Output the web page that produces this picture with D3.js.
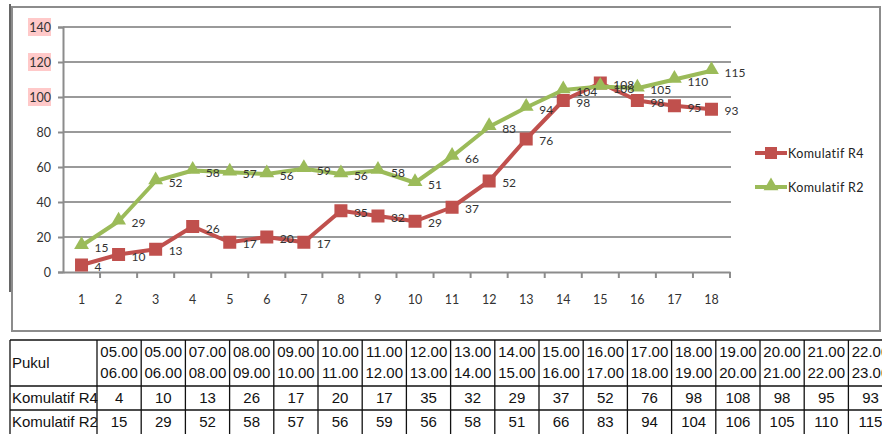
<!DOCTYPE html>
<meta charset="utf-8">
<style>
body { margin: 0; background: #fff; }
svg text { font-family: Lato, "Open Sans", sans-serif; }
.tbl text { font-family: "Liberation Sans", Arial, sans-serif; font-size: 15px; fill: #111; }
</style>
<body>
<script src="https://cdnjs.cloudflare.com/ajax/libs/d3/7.8.5/d3.min.js"></script>
<script>

// chart data
var cats = ["1","2","3","4","5","6","7","8","9","10","11","12","13","14","15","16","17","18"];
var r4 = [4, 10, 13, 26, 17, 20, 17, 35, 32, 29, 37, 52, 76, 98, 108, 98, 95, 93];
var r2 = [15, 29, 52, 58, 57, 56, 59, 56, 58, 51, 66, 83, 94, 104, 106, 105, 110, 115];
var yTicks = [0, 20, 40, 60, 80, 100, 120, 140];
var pinkTicks = [100, 120, 140];

// table data
var pukulFrom = ["05.00","05.00","07.00","08.00","09.00","10.00","11.00","12.00","13.00",
                 "14.00","15.00","16.00","17.00","18.00","19.00","20.00","21.00","22.00"];
var pukulTo = ["06.00","06.00","08.00","09.00","10.00","11.00","12.00","13.00","14.00",
               "15.00","16.00","17.00","18.00","19.00","20.00","21.00","22.00","23.00"];

var series = [
  {name: "Komulatif R4", values: r4, color: "#c0504d", marker: "square"},
  {name: "Komulatif R2", values: r2, color: "#9bbb59", marker: "triangle"}
];

var width = 882, height = 434;

var svg = d3.select("body").append("svg")
    .attr("width", width)
    .attr("height", height);

// chart frame
svg.append("rect")
    .attr("x", 12).attr("y", 7)
    .attr("width", 868).attr("height", 324)
    .attr("fill", "none")
    .attr("stroke", "#8c8c8c")
    .attr("stroke-width", 2);

svg.append("line")
    .attr("x1", 10).attr("x2", 10)
    .attr("y1", 4).attr("y2", 292)
    .attr("stroke", "#333")
    .attr("stroke-width", 1.5);

var x = d3.scaleBand()
    .domain(cats)
    .range([63, 730])
    .padding(0);

var y = d3.scaleLinear()
    .domain([0, 140])
    .range([272, 27]);

function cx(i) { return x(cats[i]) + x.bandwidth() / 2; }

// gridlines
svg.append("g")
  .selectAll("line")
  .data(yTicks.filter(function(d) { return d > 0; }))
  .enter().append("line")
    .attr("x1", 63).attr("x2", 731)
    .attr("y1", function(d) { return y(d); })
    .attr("y2", function(d) { return y(d); })
    .attr("stroke", "#9a9a9a")
    .attr("stroke-width", 2);

// pink highlight behind top y labels
svg.append("g")
  .selectAll("rect")
  .data(pinkTicks)
  .enter().append("rect")
    .attr("x", 28).attr("y", function(d) { return y(d) - 9; })
    .attr("width", 23).attr("height", 18)
    .attr("fill", "#ffc9c9");

// y axis
var yAxis = svg.append("g")
    .attr("transform", "translate(63,0)")
    .call(d3.axisLeft(y).tickValues(yTicks).tickSize(5).tickPadding(7));

yAxis.select(".domain").attr("stroke", "#8c8c8c").attr("stroke-width", 2);
yAxis.selectAll(".tick line").attr("stroke", "#8c8c8c").attr("stroke-width", 2);
yAxis.selectAll(".tick text")
    .style("font-family", "Lato, sans-serif")
    .style("font-size", "12.5px")
    .attr("fill", "#333");

// x axis
var xAxis = svg.append("g")
    .attr("transform", "translate(0,272)")
    .call(d3.axisBottom(x).tickSize(0).tickPadding(23));

xAxis.select(".domain").attr("stroke", "#8c8c8c").attr("stroke-width", 2);
xAxis.selectAll(".tick text")
    .style("font-family", "Lato, sans-serif")
    .style("font-size", "12.5px")
    .attr("fill", "#333");

// tick marks between categories
xAxis.append("g")
  .selectAll("line")
  .data(cats)
  .enter().append("line")
    .attr("x1", function(d) { return x(d) + x.bandwidth(); })
    .attr("x2", function(d) { return x(d) + x.bandwidth(); })
    .attr("y1", 0).attr("y2", 6)
    .attr("stroke", "#8c8c8c")
    .attr("stroke-width", 2);

var line = d3.line()
    .x(function(d, i) { return cx(i); })
    .y(function(d) { return y(d); });

var tri = d3.symbol().type(d3.symbolTriangle).size(95);

series.forEach(function(s) {
  var g = svg.append("g");

  g.append("path")
      .datum(s.values)
      .attr("d", line)
      .attr("fill", "none")
      .attr("stroke", s.color)
      .attr("stroke-width", 4)
      .attr("stroke-linejoin", "round");

  if (s.marker == "square") {
    g.selectAll("rect")
        .data(s.values)
        .enter().append("rect")
        .attr("x", function(d, i) { return cx(i) - 6.5; })
        .attr("y", function(d) { return y(d) - 6.5; })
        .attr("width", 13).attr("height", 13)
        .attr("fill", s.color);
  } else {
    g.selectAll(".tri")
        .data(s.values)
        .enter().append("path")
        .attr("class", "tri")
        .attr("d", tri)
        .attr("transform", function(d, i) { return "translate(" + cx(i) + "," + (y(d) - 1) + ")"; })
        .attr("fill", s.color);
  }
});

// data labels, drawn on top
series.forEach(function(s) {
  svg.append("g")
    .selectAll("text")
    .data(s.values)
    .enter().append("text")
      .attr("x", function(d, i) { return cx(i) + 13; })
      .attr("y", function(d) { return y(d) + 6; })
      .style("font-size", "12px")
      .attr("fill", "#333")
      .text(function(d) { return d; });
});

// legend
var legend = svg.append("g")
  .selectAll("g")
  .data(series)
  .enter().append("g")
    .attr("transform", function(d, i) { return "translate(755," + (153 + i * 34) + ")"; });

legend.append("line")
    .attr("x1", 0).attr("x2", 32)
    .attr("stroke", function(d) { return d.color; })
    .attr("stroke-width", 4);

legend.each(function(d) {
  var g = d3.select(this);
  if (d.marker == "square") {
    g.append("rect").attr("x", 10).attr("y", -6).attr("width", 12).attr("height", 12).attr("fill", d.color);
  } else {
    g.append("path").attr("d", tri).attr("transform", "translate(16,-1)").attr("fill", d.color);
  }
});

legend.append("text")
    .attr("x", 33).attr("y", 4.5)
    .style("font-size", "12.5px")
    .style("letter-spacing", "0.4px")
    .attr("fill", "#222")
    .text(function(d) { return d.name; });

// table
var tbl = svg.append("g").attr("class", "tbl");
var colX = d3.scaleLinear().domain([0, 18]).range([97, 97 + 18 * 44.2]);
var rowY = [340, 386, 410, 435];
var stroke = "#111";

rowY.forEach(function(ry) {
  tbl.append("line")
      .attr("x1", 10).attr("x2", width)
      .attr("y1", ry).attr("y2", ry)
      .attr("stroke", stroke).attr("stroke-width", 1.3);
});

tbl.append("line")
    .attr("x1", 10).attr("x2", 10)
    .attr("y1", 340).attr("y2", height)
    .attr("stroke", stroke).attr("stroke-width", 1.3);

tbl.selectAll(".col")
  .data(d3.range(19))
  .enter().append("line")
    .attr("class", "col")
    .attr("x1", function(d) { return colX(d); })
    .attr("x2", function(d) { return colX(d); })
    .attr("y1", 340).attr("y2", height)
    .attr("stroke", stroke).attr("stroke-width", 1.3);

tbl.append("text").attr("x", 12).attr("y", 368).text("Pukul");
tbl.append("text").attr("x", 12).attr("y", 403).text("Komulatif R4");
tbl.append("text").attr("x", 12).attr("y", 427).text("Komulatif R2");

function colText(data, ty) {
  tbl.append("g")
    .selectAll("text")
    .data(data)
    .enter().append("text")
      .attr("x", function(d, i) { return colX(i + 0.5); })
      .attr("y", ty)
      .attr("text-anchor", "middle")
      .text(function(d) { return d; });
}

colText(pukulFrom, 357);
colText(pukulTo, 378);
colText(r4, 403);
colText(r2, 427);

</script>
